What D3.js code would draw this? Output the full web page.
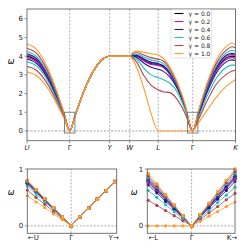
<!DOCTYPE html>
<html>
<head>
<meta charset="utf-8">
<script src="https://cdn.jsdelivr.net/npm/d3@7"></script>
<style>
  body { margin: 0; background: #fff; }
  text { font-family: "DejaVu Sans", sans-serif; }
</style>
</head>
<body>
<div id="chart"></div>
<script>

// ---- data ----
const gammas = ["0.0", "0.2", "0.4", "0.6", "0.8", "1.0"];
const colors = ["#000000", "#b21db2", "#1c1c8c", "#22bfbf", "#b0444e", "#ff9c2e"];

// high symmetry points along the path
const kLabels = ["U", "Γ", "Y", "W", "L", "Γ", "K"];
const kTicks = [0, 42.7, 82.7, 102.7, 131.2, 165.7, 208.5];

// sample positions along the path
const kx = [0, 10, 20, 30, 37, 42.7,  48, 57, 66, 75, 82.7,  92, 102.7,
            106, 110, 117, 124, 131.2,  136, 143, 150, 158, 165.7,
            171, 180, 190, 200, 205, 208.5];

// frequencies, upper / lower transverse branch for each gamma
const w00 = [4.00, 3.73, 2.97, 1.81, 0.90, 0,  0.81, 2.14, 3.16, 3.82, 4.0,  4.0, 4.0,
             4.03, 4.00, 3.78, 3.60, 3.54,  3.45, 3.05, 2.40, 1.30, 0,
             0.82, 2.20, 3.33, 3.92, 4.00, 3.95];
const w02Up = [4.06, 3.79, 3.02, 1.84, 0.91, 0,  0.81, 2.14, 3.16, 3.82, 4.0,  4.0, 4.0,
               4.05, 4.02, 3.82, 3.64, 3.57,  3.48, 3.08, 2.43, 1.31, 0,
               0.84, 2.25, 3.40, 4.00, 4.08, 4.03];
const w02Lo = [3.93, 3.67, 2.92, 1.78, 0.88, 0,  0.81, 2.14, 3.16, 3.82, 4.0,  4.0, 4.0,
               4.02, 3.97, 3.74, 3.55, 3.50,  3.40, 3.00, 2.37, 1.28, 0,
               0.80, 2.15, 3.27, 3.85, 3.92, 3.88];
const w04Up = [4.13, 3.85, 3.07, 1.88, 0.92, 0,  0.81, 2.14, 3.16, 3.82, 4.0,  4.0, 4.0,
               4.06, 4.04, 3.85, 3.68, 3.60,  3.50, 3.10, 2.45, 1.32, 0,
               0.86, 2.28, 3.45, 4.07, 4.15, 4.10];
const w04Lo = [3.85, 3.59, 2.86, 1.74, 0.86, 0,  0.81, 2.14, 3.16, 3.82, 4.0,  4.0, 4.0,
               4.00, 3.92, 3.62, 3.40, 3.30,  3.20, 2.88, 2.30, 1.25, 0,
               0.76, 2.05, 3.15, 3.72, 3.80, 3.77];
const w06Up = [4.25, 3.96, 3.16, 1.93, 0.93, 0,  0.81, 2.14, 3.16, 3.82, 4.0,  4.0, 4.0,
               4.10, 4.10, 3.95, 3.80, 3.72,  3.62, 3.20, 2.50, 1.35, 0,
               0.90, 2.35, 3.55, 4.20, 4.30, 4.25];
const w06Lo = [3.70, 3.45, 2.75, 1.67, 0.82, 0,  0.81, 2.14, 3.16, 3.82, 4.0,  4.0, 4.0,
               3.96, 3.82, 3.35, 3.00, 2.85,  2.75, 2.55, 2.10, 1.15, 0,
               0.66, 1.85, 2.88, 3.42, 3.52, 3.52];
const w08Up = [4.42, 4.12, 3.29, 2.00, 0.95, 0,  0.81, 2.14, 3.16, 3.82, 4.0,  4.0, 4.0,
               4.15, 4.18, 4.05, 3.92, 3.84,  3.75, 3.30, 2.55, 1.38, 0,
               0.95, 2.45, 3.68, 4.35, 4.50, 4.43];
const w08Lo = [3.45, 3.22, 2.56, 1.56, 0.76, 0,  0.81, 2.14, 3.16, 3.82, 4.0,  4.0, 4.0,
               3.90, 3.65, 2.95, 2.45, 2.20,  2.10, 2.05, 1.70, 0.95, 0,
               0.55, 1.60, 2.55, 3.05, 3.20, 3.25];
const w10Up = [4.65, 4.34, 3.45, 2.10, 0.98, 0,  0.81, 2.14, 3.16, 3.82, 4.0,  4.0, 4.0,
               4.20, 4.27, 4.20, 4.13, 4.06,  3.90, 3.40, 2.65, 1.45, 0,
               1.00, 2.55, 3.85, 4.55, 4.70, 4.62];
const w10Lo = [3.15, 2.94, 2.34, 1.42, 0.68, 0,  0.81, 2.14, 3.16, 3.82, 4.0,  4.0, 4.0,
               3.80, 3.35, 2.25, 0.95, 0,  0, 0, 0, 0, 0,
               0.40, 1.10, 1.85, 2.42, 2.62, 2.75];

// zoom panels: steps away from Gamma
const stepsL = [-5, -4, -3, -2, -1, 0];
const stepsR = [0, 1, 2, 3, 4, 5];

// bottom-left: U side and Y side
const uSide = {
  w00:   [0.76, 0.61, 0.46, 0.30, 0.15, 0],
  w02Up: [0.77, 0.62, 0.46, 0.31, 0.15, 0], w02Lo: [0.75, 0.60, 0.45, 0.30, 0.15, 0],
  w04Up: [0.78, 0.62, 0.47, 0.31, 0.16, 0], w04Lo: [0.74, 0.59, 0.44, 0.30, 0.15, 0],
  w06Up: [0.78, 0.62, 0.47, 0.31, 0.16, 0], w06Lo: [0.70, 0.56, 0.42, 0.28, 0.14, 0],
  w08Up: [0.79, 0.63, 0.47, 0.32, 0.16, 0], w08Lo: [0.63, 0.50, 0.38, 0.25, 0.13, 0],
  w10Up: [0.80, 0.64, 0.48, 0.32, 0.16, 0], w10Lo: [0.53, 0.42, 0.32, 0.21, 0.11, 0]
};
const ySide = [0, 0.16, 0.31, 0.47, 0.62, 0.78];

// bottom-right: L side and K side
const lSide = {
  w00:   [0.78, 0.62, 0.47, 0.31, 0.16, 0],
  w02Up: [0.80, 0.64, 0.48, 0.32, 0.16, 0], w02Lo: [0.76, 0.61, 0.46, 0.30, 0.15, 0],
  w04Up: [0.82, 0.66, 0.49, 0.33, 0.16, 0], w04Lo: [0.72, 0.58, 0.43, 0.29, 0.14, 0],
  w06Up: [0.85, 0.68, 0.51, 0.34, 0.17, 0], w06Lo: [0.62, 0.50, 0.37, 0.25, 0.12, 0],
  w08Up: [0.88, 0.70, 0.53, 0.35, 0.18, 0], w08Lo: [0.45, 0.36, 0.27, 0.18, 0.09, 0],
  w10Up: [0.92, 0.74, 0.55, 0.37, 0.18, 0], w10Lo: [0, 0, 0, 0, 0, 0]
};
const kSide = {
  w00:   [0, 0.17, 0.34, 0.50, 0.67, 0.84],
  w02Up: [0, 0.17, 0.34, 0.52, 0.69, 0.86], w02Lo: [0, 0.16, 0.33, 0.49, 0.66, 0.82],
  w04Up: [0, 0.18, 0.35, 0.53, 0.70, 0.88], w04Lo: [0, 0.16, 0.31, 0.47, 0.62, 0.78],
  w06Up: [0, 0.18, 0.37, 0.55, 0.74, 0.92], w06Lo: [0, 0.14, 0.27, 0.41, 0.54, 0.68],
  w08Up: [0, 0.19, 0.38, 0.58, 0.77, 0.96], w08Lo: [0, 0.11, 0.23, 0.34, 0.46, 0.57],
  w10Up: [0, 0.20, 0.40, 0.60, 0.80, 1.00], w10Lo: [0, 0.08, 0.17, 0.25, 0.34, 0.42]
};

// branch list in drawing order (gamma = 0 first, orange on top)
const branches = [
  {key: "w00", g: 0, vals: w00, up: true},
  {key: "w02Up", g: 1, vals: w02Up, up: true}, {key: "w02Lo", g: 1, vals: w02Lo, up: false},
  {key: "w04Up", g: 2, vals: w04Up, up: true}, {key: "w04Lo", g: 2, vals: w04Lo, up: false},
  {key: "w06Up", g: 3, vals: w06Up, up: true}, {key: "w06Lo", g: 3, vals: w06Lo, up: false},
  {key: "w08Up", g: 4, vals: w08Up, up: true}, {key: "w08Lo", g: 4, vals: w08Lo, up: false},
  {key: "w10Up", g: 5, vals: w10Up, up: true}, {key: "w10Lo", g: 5, vals: w10Lo, up: false}
];

// ---- layout ----
const W = 249, H = 249;
const svg = d3.select("#chart").append("svg")
    .attr("width", W).attr("height", H);

const frameColor = "#666";
const gridColor = "#bdbdbd";
const fs = 7;

// ===== TOP PANEL =====
let x = d3.scaleLinear().domain([0, 208.5]).range([27, 235.5]);
let y = d3.scaleLinear().domain([-0.52, 6.52]).range([140.7, 9]);

let topG = svg.append("g");

// vertical dashed lines at inner symmetry points
topG.selectAll(".vgrid").data(kTicks.slice(1, -1)).enter()
    .append("line")
    .attr("x1", d => x(d)).attr("x2", d => x(d))
    .attr("y1", y.range()[0]).attr("y2", y.range()[1])
    .attr("stroke", gridColor).attr("stroke-width", 1.2)
    .attr("stroke-dasharray", "2,1.5");

// zero line
topG.append("line")
    .attr("x1", x.range()[0]).attr("x2", x.range()[1])
    .attr("y1", y(0)).attr("y2", y(0))
    .attr("stroke", "#888").attr("stroke-width", 0.8)
    .attr("stroke-dasharray", "2,1.5");

let line = d3.line()
    .x((d, i) => x(kx[i]))
    .y(d => y(d))
    .curve(d3.curveMonotoneX);

topG.selectAll(".band").data(branches).enter()
    .append("path")
    .attr("d", d => line(d.vals))
    .attr("fill", "none")
    .attr("stroke", d => colors[d.g])
    .attr("stroke-width", 1.1);

// zoom boxes around Gamma
const boxHalf = 5.2;
topG.selectAll(".zbox").data([kTicks[1], kTicks[5]]).enter()
    .append("rect")
    .attr("x", d => x(d - boxHalf))
    .attr("y", y(1.0))
    .attr("width", d => x(d + boxHalf) - x(d - boxHalf))
    .attr("height", y(-0.11) - y(1.0))
    .attr("fill", "none")
    .attr("stroke", "#777").attr("stroke-width", 0.9);

// frame
topG.append("rect")
    .attr("x", x.range()[0]).attr("y", y.range()[1])
    .attr("width", x.range()[1] - x.range()[0])
    .attr("height", y.range()[0] - y.range()[1])
    .attr("fill", "none").attr("stroke", frameColor).attr("stroke-width", 0.9);

// y ticks
let yTicks = [0, 1, 2, 3, 4, 5, 6];
topG.selectAll(".ytick").data(yTicks).enter()
    .append("line")
    .attr("x1", x.range()[0] - 2.5).attr("x2", x.range()[0])
    .attr("y1", d => y(d)).attr("y2", d => y(d))
    .attr("stroke", frameColor).attr("stroke-width", 0.7);
topG.selectAll(".ylab").data(yTicks).enter()
    .append("text")
    .attr("x", x.range()[0] - 4).attr("y", d => y(d) + 2.5)
    .attr("text-anchor", "end").attr("font-size", fs).attr("fill", "#222")
    .text(d => d);

// x ticks
topG.selectAll(".xtick").data(kTicks).enter()
    .append("line")
    .attr("x1", d => x(d)).attr("x2", d => x(d))
    .attr("y1", y.range()[0]).attr("y2", y.range()[0] + 2.5)
    .attr("stroke", frameColor).attr("stroke-width", 0.7);
topG.selectAll(".xlab").data(kTicks).enter()
    .append("text")
    .attr("x", d => x(d)).attr("y", y.range()[0] + 9.5)
    .attr("text-anchor", "middle").attr("font-size", fs).attr("fill", "#222")
    .attr("font-style", (d, i) => kLabels[i] === "Γ" ? "normal" : "italic")
    .text((d, i) => kLabels[i]);

topG.append("text")
    .attr("x", 11).attr("y", 64)
    .attr("text-anchor", "middle").attr("font-size", 8).attr("font-style", "italic")
    .text("ω");

// legend
let lg = topG.append("g").attr("transform", "translate(171,9.5)");
lg.append("rect")
    .attr("width", 40.5).attr("height", 48.5).attr("rx", 1.5)
    .attr("fill", "white").attr("fill-opacity", 0.85)
    .attr("stroke", "#d0d0d0").attr("stroke-width", 0.6);
gammas.forEach((g, i) => {
    lg.append("line")
        .attr("x1", 3.5).attr("x2", 12.5)
        .attr("y1", 4 + i * 8).attr("y2", 4 + i * 8)
        .attr("stroke", colors[i]).attr("stroke-width", 1.1);
    lg.append("text")
        .attr("x", 17.5).attr("y", 6.2 + i * 8)
        .attr("font-size", 6).attr("fill", "#222")
        .text("γ = " + g);
});

// ===== BOTTOM PANELS =====
let yB = d3.scaleLinear().domain([-0.13, 1]).range([233.3, 169]);

function zoomPanel(x0, x1, dom, leftVals, rightVals, leftLab, rightLab, wx) {
    let xs = d3.scaleLinear().domain(dom).range([x0, x1]);
    let g = svg.append("g");

    g.append("line")
        .attr("x1", xs(0)).attr("x2", xs(0))
        .attr("y1", yB.range()[0]).attr("y2", yB.range()[1])
        .attr("stroke", "#999").attr("stroke-width", 0.8)
        .attr("stroke-dasharray", "2,1.5");
    g.append("line")
        .attr("x1", x0).attr("x2", x1)
        .attr("y1", yB(0)).attr("y2", yB(0))
        .attr("stroke", gridColor).attr("stroke-width", 1.2)
        .attr("stroke-dasharray", "2,1.5");

    let ln = d3.line().x(d => xs(d[0])).y(d => yB(d[1]));

    branches.forEach(b => {
        let pts = stepsL.map((s, i) => [s, leftVals(b)[i]])
            .concat(stepsR.slice(1).map((s, i) => [s, rightVals(b)[i + 1]]));
        g.append("path")
            .attr("d", ln(pts))
            .attr("fill", "none")
            .attr("stroke", colors[b.g]).attr("stroke-width", 0.8);
        let mk = g.selectAll(null).data(pts).enter();
        if (b.up) {
            mk.append("rect")
                .attr("x", d => xs(d[0]) - 1.6).attr("y", d => yB(d[1]) - 1.6)
                .attr("width", 3.2).attr("height", 3.2)
                .attr("fill", colors[b.g]);
        } else {
            mk.append("circle")
                .attr("cx", d => xs(d[0])).attr("cy", d => yB(d[1]))
                .attr("r", 1.6)
                .attr("fill", colors[b.g]);
        }
    });

    g.append("rect")
        .attr("x", x0).attr("y", yB.range()[1])
        .attr("width", x1 - x0).attr("height", yB.range()[0] - yB.range()[1])
        .attr("fill", "none").attr("stroke", frameColor).attr("stroke-width", 0.9);

    [0, 1].forEach(v => {
        g.append("line")
            .attr("x1", x0 - 2.5).attr("x2", x0)
            .attr("y1", yB(v)).attr("y2", yB(v))
            .attr("stroke", frameColor).attr("stroke-width", 0.7);
        g.append("text")
            .attr("x", x0 - 4).attr("y", yB(v) + 2.5)
            .attr("text-anchor", "end").attr("font-size", fs).attr("fill", "#222")
            .text(v);
    });

    let xl = [
        {t: leftLab, pos: x0 + 6},
        {t: "Γ", pos: xs(0)},
        {t: rightLab, pos: x1 - 3}
    ];
    g.selectAll(".bxl").data(xl).enter()
        .append("text")
        .attr("x", d => d.pos).attr("y", 240)
        .attr("text-anchor", "middle").attr("font-size", fs).attr("fill", "#222")
        .text(d => d.t);
    g.append("line")
        .attr("x1", xs(0)).attr("x2", xs(0))
        .attr("y1", yB.range()[0]).attr("y2", yB.range()[0] + 2.5)
        .attr("stroke", frameColor).attr("stroke-width", 0.7);

    g.append("text")
        .attr("x", wx).attr("y", 195)
        .attr("text-anchor", "middle").attr("font-size", 8).attr("font-style", "italic")
        .text("ω");
}

zoomPanel(27.3, 116.7, [-5, 5.2], b => uSide[b.key], b => ySide, "←U", "Y→", 11);
zoomPanel(147.3, 235, [-5.1, 5], b => lSide[b.key], b => kSide[b.key], "←L", "K→", 134);

</script>
</body>
</html>
